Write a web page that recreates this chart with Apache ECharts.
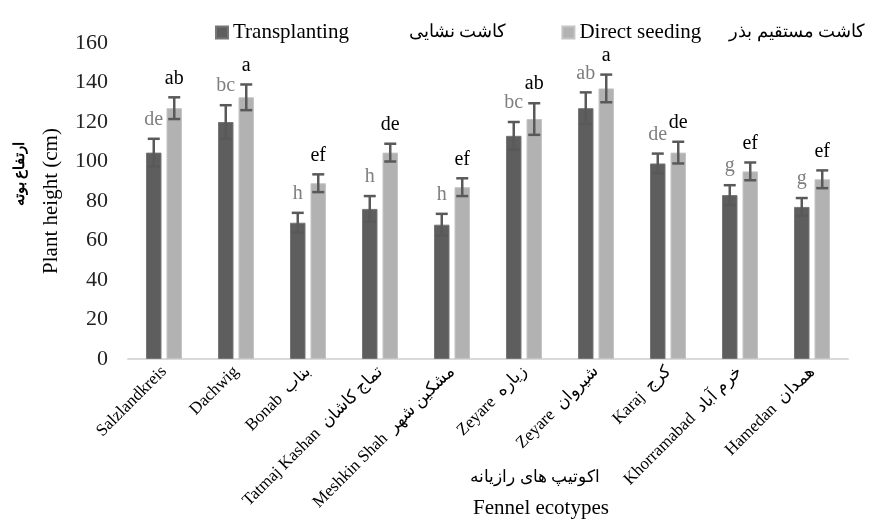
<!DOCTYPE html>
<html>
<head>
<meta charset="utf-8">
<script src="https://cdn.jsdelivr.net/npm/echarts@6/dist/echarts.min.js"></script>
<style>
  html, body { margin: 0; padding: 0; background: #fff; }
  #chart { width: 875px; height: 521px; }
</style>
</head>
<body>
<div id="chart"></div>
<script>
// fennel ecotypes - plant height
var categories = ['Salzlandkreis', 'Dachwig', 'Bonab  بناب', 'Tatmaj Kashan  تماج کاشان', 'Meshkin Shah  مشکین شهر',
  'Zeyare  زیاره', 'Zeyare  شیروان', 'Karaj  کرج', 'Khorramabad  خرم آباد', 'Hamedan  همدان'];
var transplanting = [104.5, 120, 69, 76, 68, 113, 127, 99, 83, 77];
var transErr = [7, 8.5, 5, 6.5, 5.5, 7, 8, 5, 5, 4.5];
var transLetters = ['de', 'bc', 'h', 'h', 'h', 'bc', 'ab', 'de', 'g', 'g'];
var directSeeding = [127, 132.5, 89, 104.5, 87, 121.5, 137, 104.5, 95, 91];
var directErr = [5.5, 6.5, 4.5, 4.5, 4.5, 8, 7, 5.5, 4.5, 4.5];
var directLetters = ['ab', 'a', 'ef', 'de', 'ef', 'ab', 'a', 'de', 'ef', 'ef'];
var yTicks = [0, 20, 40, 60, 80, 100, 120, 140, 160];

var serif = '"Liberation Serif", "DejaVu Serif", serif';
var BAR_W = 15.5, BAR_GAP = 5;

function errData(vals, errs, letters) {
  return vals.map(function (v, i) { return [i, v, errs[i], letters[i]]; });
}

function errRender(side, letterColor) {
  return function (params, api) {
    var i = api.value(0), v = api.value(1), e = api.value(2);
    var off = side * (BAR_W + BAR_GAP) / 2;
    var top = api.coord([i, v + e]);
    var bot = api.coord([i, v - e]);
    var x = top[0] + off;
    var st = { stroke: '#595959', lineWidth: 2.5 };
    return {
      type: 'group',
      children: [
        { type: 'line', shape: { x1: x, y1: top[1], x2: x, y2: bot[1] }, style: st },
        { type: 'line', shape: { x1: x - 6, y1: top[1], x2: x + 6, y2: top[1] }, style: st },
        { type: 'line', shape: { x1: x - 6, y1: bot[1], x2: x + 6, y2: bot[1] }, style: st },
        { type: 'text', x: x, y: top[1] - 19,
          style: { text: api.value(3), fill: letterColor, font: '20px ' + serif, align: 'center', verticalAlign: 'middle' } }
      ]
    };
  };
}

var chart = echarts.init(document.getElementById('chart'));

var option = {
  backgroundColor: '#fff',
  animation: false,
  legend: {
    left: 210,
    top: 17,
    width: 665,
    itemWidth: 12,
    itemHeight: 12,
    itemGap: 55,
    itemTextGap: 5,
    icon: 'rect',
    data: ['Transplanting', 'Direct seeding'],
    formatter: function (name) {
      var fa = name === 'Transplanting' ? 'کاشت نشایی' : 'کاشت مستقیم بذر';
      var sp = name === 'Transplanting' ? 'a' : 'b';
      return name + '{' + sp + '|}{fa|' + fa + '}';
    },
    textStyle: {
      fontFamily: serif, fontSize: 21, color: '#000',
      rich: {
        a: { width: 60 },
        b: { width: 28 },
        fa: { fontFamily: serif, fontSize: 18, color: '#000' }
      }
    }
  },
  grid: { left: 128, right: 27, top: 43, bottom: 162 },
  xAxis: {
    type: 'category',
    data: categories,
    axisLine: { lineStyle: { color: '#d9d9d9', width: 2 } },
    axisTick: { show: false },
    axisLabel: {
      interval: 0,
      rotate: 45,
      margin: 10,
      fontFamily: serif,
      fontSize: 17,
      color: '#000'
    }
  },
  yAxis: {
    type: 'value',
    min: 0,
    max: 160,
    interval: 20,
    name: 'Plant height (cm)',
    nameLocation: 'middle',
    nameGap: 66,
    nameTextStyle: { fontFamily: serif, fontSize: 21, color: '#000' },
    axisLine: { show: false },
    axisTick: { show: false },
    splitLine: { show: false },
    axisLabel: {
      margin: 20,
      fontFamily: serif,
      fontSize: 22,
      color: '#222',
      formatter: function (v) { return yTicks.indexOf(v) >= 0 ? String(v) : ''; }
    }
  },
  graphic: [
    { type: 'text', x: 20, y: 174, rotation: Math.PI / 2,
      style: { text: 'ارتفاع بوته', font: 'bold 15px ' + serif, fill: '#000', align: 'center', verticalAlign: 'middle' } },
    { type: 'text', x: 535, y: 478,
      style: { text: 'اکوتیپ های رازیانه', font: '17px ' + serif, fill: '#000', align: 'center', verticalAlign: 'middle' } },
    { type: 'text', x: 541, y: 508,
      style: { text: 'Fennel ecotypes', font: '21px ' + serif, fill: '#000', align: 'center', verticalAlign: 'middle' } }
  ],
  series: [
    {
      name: 'Transplanting',
      type: 'bar',
      barWidth: BAR_W,
      barGap: (BAR_GAP / BAR_W * 100) + '%',
      itemStyle: { color: '#5e5e5e', borderColor: '#767676', borderWidth: 1 },
      data: transplanting
    },
    {
      name: 'Direct seeding',
      type: 'bar',
      barWidth: BAR_W,
      itemStyle: { color: '#b2b2b2', borderColor: '#c4c4c4', borderWidth: 1 },
      data: directSeeding
    },
    {
      type: 'custom',
      renderItem: errRender(-1, '#7f7f7f'),
      data: errData(transplanting, transErr, transLetters),
      z: 5
    },
    {
      type: 'custom',
      renderItem: errRender(1, '#000'),
      data: errData(directSeeding, directErr, directLetters),
      z: 5
    }
  ]
};

chart.setOption(option);
</script>
</body>
</html>
